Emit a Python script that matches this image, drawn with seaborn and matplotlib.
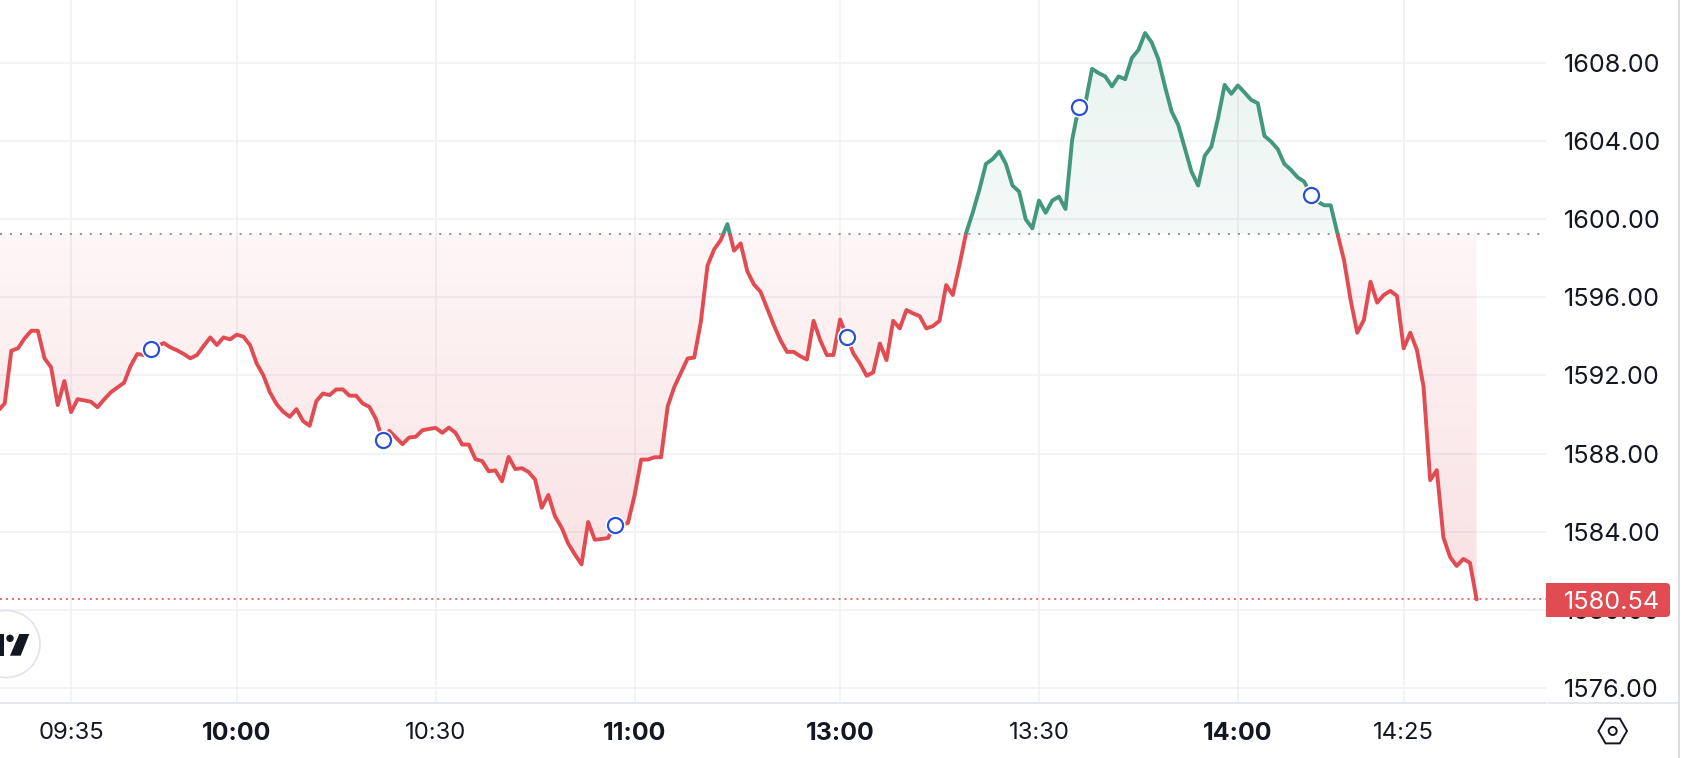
import numpy as np
import pandas as pd
import matplotlib
matplotlib.use("Agg")
import matplotlib.pyplot as plt
from matplotlib.path import Path
from matplotlib.patches import Rectangle, Circle, Polygon, RegularPolygon, FancyBboxPatch
import seaborn as sns

# ---- data -------------------------------------------------------------
price_morning = [
    1590.19, 1590.56, 1593.26, 1593.38, 1593.89, 1594.28, 1594.28, 1592.87, 1592.41, 1590.48,
    1591.71, 1590.12, 1590.78, 1590.72, 1590.65, 1590.37, 1590.77, 1591.13, 1591.38, 1591.62,
    1592.49, 1593.09, 1593.04, 1593.34, 1593.50, 1593.65, 1593.43, 1593.28, 1593.09, 1592.87,
    1593.04, 1593.50, 1593.94, 1593.55, 1593.94, 1593.84, 1594.08, 1593.98, 1593.55, 1592.61,
    1592.01, 1591.13, 1590.53, 1590.14, 1589.88, 1590.27, 1589.66, 1589.42, 1590.68, 1591.07,
    1590.99, 1591.28, 1591.28, 1590.96, 1590.96, 1590.56, 1590.39, 1589.76, 1588.69, 1589.16,
    1588.82, 1588.48, 1588.82, 1588.86,
    1589.19, 1589.26, 1589.31, 1589.06, 1589.33, 1589.06, 1588.46, 1588.46, 1587.71, 1587.62,
    1587.09, 1587.14, 1586.58, 1587.83, 1587.21, 1587.25, 1587.06, 1586.67, 1585.23, 1585.88,
    1584.79, 1584.21, 1583.39, 1582.84, 1582.33, 1584.50, 1583.59, 1583.63, 1583.68, 1584.33,
    1584.33, 1584.45, 1585.86, 1587.69, 1587.69, 1587.81, 1587.81, 1590.42, 1591.41, 1592.13,
    1592.86, 1592.91, 1594.74, 1597.61, 1598.44, 1598.92, 1599.74, 1598.38, 1598.75, 1597.33,
    1596.65, 1596.28, 1595.42, 1594.57, 1593.80, 1593.20, 1593.20, 1592.98, 1592.81, 1594.79,
    1593.80,
]
price_afternoon = [
    1593.04, 1593.04, 1594.86, 1593.98, 1593.12, 1592.61, 1591.98, 1592.15, 1593.63, 1592.78,
    1594.79, 1594.40, 1595.34, 1595.17, 1595.03, 1594.40, 1594.52, 1594.79, 1596.62, 1596.11,
    1597.64, 1599.27, 1600.32, 1601.49, 1602.82, 1603.06, 1603.45, 1602.82, 1601.71, 1601.40,
    1599.98, 1599.52, 1600.94, 1600.32, 1600.94, 1601.14, 1600.51, 1604.05, 1605.74, 1605.92,
    1607.68, 1607.46, 1607.29, 1606.78, 1607.29, 1607.15, 1608.23, 1608.65, 1609.51, 1609.03,
    1608.18, 1606.78, 1605.50, 1604.81, 1603.62, 1602.42, 1601.71, 1603.23, 1603.70, 1605.15,
    1606.86, 1606.40, 1606.83, 1606.47, 1606.09, 1605.92, 1604.25, 1603.96, 1603.58, 1602.82,
    1602.51, 1602.13, 1601.91, 1601.23, 1600.89,
    1600.70, 1600.70, 1599.27, 1597.90, 1595.86, 1594.18, 1594.83, 1596.79, 1595.72, 1596.11,
    1596.32, 1596.06, 1593.38, 1594.18, 1593.30, 1591.42, 1586.64, 1587.15, 1583.70, 1582.71,
    1582.25, 1582.61, 1582.41, 1580.54,
]
first_bar = -6                      # bar 0 = 09:30, one bar per trading minute
baseline = 1599.25
last_price = 1580.54
event_bars = [17, 52, 87, 122, 157, 192]
x_tick_bars = [5, 30, 60, 90, 121, 151, 181, 206]
x_tick_labels = ["09:35", "10:00", "10:30", "11:00", "13:00", "13:30", "14:00", "14:25"]
x_tick_bold = ["10:00", "11:00", "13:00", "14:00"]
y_ticks = [1576, 1580, 1584, 1588, 1592, 1596, 1600, 1604, 1608]

# ---- style ------------------------------------------------------------
RED = "#e14b52"
GREEN = "#43977e"
GRID = "#f0f1f3"
INK = "#131722"
BORDER = "#e0e3eb"
BLUE = "#2a50d8"

sns.set_theme(style="white")
plt.rcParams["font.family"] = ["Inter", "DejaVu Sans"]

W, H = 1684, 758
PLOT_R, PLOT_B = 1546, 703
fig = plt.figure(figsize=(W / 100, H / 100), dpi=100, facecolor="white")
ax = fig.add_axes([0, 1 - PLOT_B / H, PLOT_R / W, PLOT_B / H])

prices = np.array(price_morning + price_afternoon)
bars = np.arange(first_bar, first_bar + len(prices))
df = pd.DataFrame({"bar": bars, "price": prices})

xlim = (-5.709, 227.47)
ylim = (1575.24, 1611.20)

# grid
ax.set_axisbelow(True)
ax.grid(True, color=GRID, linewidth=1.2)


def gradient_fill(where, color, v_near, v_far, a_near, a_far):
    poly = ax.fill_between(bars, prices, baseline, where=where, interpolate=True,
                           color="none", linewidth=0)
    vals = np.linspace(min(v_near, v_far), max(v_near, v_far), 256)
    alpha = np.interp(vals, sorted([v_near, v_far]),
                      [a_near, a_far] if v_near < v_far else [a_far, a_near])
    rgba = np.zeros((256, 1, 4))
    rgba[..., :3] = matplotlib.colors.to_rgb(color)
    rgba[:, 0, 3] = alpha
    im = ax.imshow(rgba, origin="lower", aspect="auto", interpolation="bilinear",
                   extent=(bars[0], bars[-1], vals[0], vals[-1]), zorder=1.5)
    im.set_clip_path(Path.make_compound_path(*poly.get_paths()), transform=ax.transData)


gradient_fill(prices <= baseline, "#dd4a55", baseline, prices.min(), 0.05, 0.17)
gradient_fill(prices >= baseline, "#3f9a80", baseline, prices.max(), 0.06, 0.11)

# baseline and last price
ax.axhline(baseline, color="#787b86", linewidth=1.15, linestyle=(0, (1.25, 5.0)), zorder=2)
ax.axhline(last_price, color=RED, linewidth=1.15, linestyle=(0, (1.25, 2.5)), zorder=2)

# price line, coloured either side of the baseline
sns.lineplot(data=df, x="bar", y="price", ax=ax, color=RED, linewidth=2.8,
             estimator=None, sort=False, zorder=3)
sns.lineplot(data=df, x="bar", y="price", ax=ax, color=GREEN, linewidth=2.8,
             estimator=None, sort=False, zorder=3.1)
red_line, green_line = ax.get_lines()[-2:]
for ln in (red_line, green_line):
    ln.set_solid_joinstyle("round")
    ln.set_solid_capstyle("round")
red_line.set_clip_path(Rectangle((xlim[0], ylim[0]), xlim[1] - xlim[0], baseline - ylim[0],
                                 transform=ax.transData))
green_line.set_clip_path(Rectangle((xlim[0], baseline), xlim[1] - xlim[0], ylim[1] - baseline,
                                   transform=ax.transData))

# event markers
ev = df[df["bar"].isin(event_bars)]
sns.scatterplot(data=ev, x="bar", y="price", ax=ax, s=215, color="white", linewidth=0,
                zorder=4, legend=False, clip_on=False)
sns.scatterplot(data=ev, x="bar", y="price", ax=ax, s=118, facecolor="white", edgecolor=BLUE,
                linewidth=1.6, zorder=5, legend=False, clip_on=False)

ax.set_xlim(*xlim)
ax.set_ylim(*ylim)
ax.set_xlabel("")
ax.set_ylabel("")
ax.set_xticks(x_tick_bars)
ax.set_xticklabels(x_tick_labels)
ax.set_yticks(y_ticks)
ax.set_yticklabels([f"{v:.2f}" for v in y_ticks])
ax.yaxis.tick_right()
ax.tick_params(axis="y", length=0, pad=13, labelsize=18.2, labelcolor=INK)
ax.tick_params(axis="x", length=0, pad=14, labelsize=17.2, labelcolor=INK)
for lab in ax.get_xticklabels():
    if lab.get_text() in x_tick_bold:
        lab.set_fontweight("bold")
        lab.set_fontsize(18)
for s in ("top", "left", "right"):
    ax.spines[s].set_visible(False)
ax.spines["bottom"].set_color(BORDER)
ax.spines["bottom"].set_linewidth(1.2)

# ---- chrome drawn in pixel coordinates ---------------------------------
ov = fig.add_axes([0, 0, 1, 1], facecolor="none")
ov.set_xlim(0, W)
ov.set_ylim(H, 0)
ov.axis("off")

ov.plot([1548, 1678], [PLOT_B, PLOT_B], color=BORDER, lw=1.2, solid_capstyle="butt")
ov.plot([1679, 1679], [0, H], color="#d9dade", lw=1.3, solid_capstyle="butt")

# last-price tag
tag_y = 600
ov.add_patch(FancyBboxPatch((1548, tag_y - 17), 122, 34, boxstyle="round,pad=0,rounding_size=4",
                            fc=RED, ec="none", zorder=6))
ov.add_patch(Rectangle((1546, tag_y - 17), 10, 34, fc=RED, ec="none", zorder=6))
ov.text(1564, tag_y, f"{last_price:.2f}", color="white", fontsize=18.2, va="center_baseline",
        ha="left", zorder=7)

# settings icon
ov.add_patch(RegularPolygon((1612.7, 731), 6, radius=14.3, orientation=np.pi / 2,
                            fc="none", ec=INK, lw=1.4))
ov.add_patch(Circle((1612.7, 731), 4, fc="none", ec=INK, lw=1.4))

# logo badge
ov.add_patch(Circle((6.5, 644), 33.5, fc="white", ec=BORDER, lw=1.2, zorder=2))
ov.add_patch(Rectangle((0, 633.5), 4, 22.2, fc=INK, ec="none", zorder=3))
ov.add_patch(Circle((10, 638.3), 3.7, fc=INK, ec="none", zorder=3))
ov.add_patch(Polygon([(19.3, 634), (29.3, 634), (20.7, 655.7), (10, 655.7)], fc=INK, ec="none", zorder=3))

fig.savefig("out.png", dpi=100)
